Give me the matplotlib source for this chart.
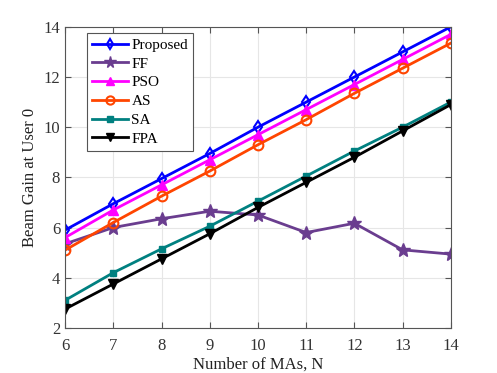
import numpy as np
import matplotlib.pyplot as plt

plt.rcParams['font.family'] = ['Liberation Serif', 'DejaVu Serif']

n = [6, 7, 8, 9, 10, 11, 12, 13, 14]
proposed = [5.9, 6.95, 7.95, 8.95, 10.0, 11.0, 12.0, 13.0, 14.0]
ff = [5.35, 6.0, 6.35, 6.65, 6.5, 5.8, 6.17, 5.11, 4.94]
pso = [5.6, 6.7, 7.7, 8.7, 9.7, 10.7, 11.7, 12.7, 13.7]
as_ = [5.1, 6.2, 7.25, 8.25, 9.3, 10.3, 11.35, 12.35, 13.35]
sa = [3.1, 4.2, 5.15, 6.05, 7.05, 8.05, 9.05, 10.0, 11.0]
fpa = [2.75, 3.75, 4.75, 5.75, 6.8, 7.8, 8.8, 9.85, 10.9]

fig = plt.figure(figsize=(4.97, 3.73), dpi=100)
axes = fig.add_axes([0.131, 0.121, 0.776, 0.807])

axes.plot(n, proposed, '-d', color='#0000ff', lw=2, ms=6, mfc='none', mew=1.5, label='Proposed')
axes.plot(n, ff, '-*', color='#6a3d8f', lw=2, ms=10, label='FF')
axes.plot(n, pso, '-^', color='#ff00ff', lw=2, ms=7, label='PSO')
axes.plot(n, as_, '-o', color='#ff4500', lw=2, ms=7, mfc='none', mew=1.5, label='AS')
axes.plot(n, sa, '-s', color='#008080', lw=2, ms=5, label='SA')
axes.plot(n, fpa, '-v', color='black', lw=2, ms=7, label='FPA')

axes.set_xlim([6, 14])
axes.set_ylim([2, 14])
axes.set_xticks(n)
axes.set_yticks([2, 4, 6, 8, 10, 12, 14])
axes.grid(True, color='#e6e6e6', lw=0.8)
axes.set_axisbelow(True)
for s in axes.spines.values():
    s.set_color('#555555')
    s.set_linewidth(0.8)
axes.tick_params(direction='in', labelsize=12, labelcolor='#333333', color='#555555',
                 length=4, top=True, right=True)
axes.tick_params(axis='x', pad=7)
axes.set_xlabel('Number of MAs, N', fontsize=12, color='#222222', labelpad=2)
axes.set_ylabel('Beam Gain at User 0', fontsize=12, color='#222222')

leg = axes.legend(loc='upper left', bbox_to_anchor=(0.057, 0.98), fontsize=11,
                  fancybox=False, framealpha=1, edgecolor='#555555', borderaxespad=0,
                  handlelength=2.3, labelspacing=0.33, borderpad=0.35, handletextpad=0.25,
                  markerscale=0.85)
leg.get_frame().set_linewidth(0.8)

fig.savefig('out.png', dpi=100)
